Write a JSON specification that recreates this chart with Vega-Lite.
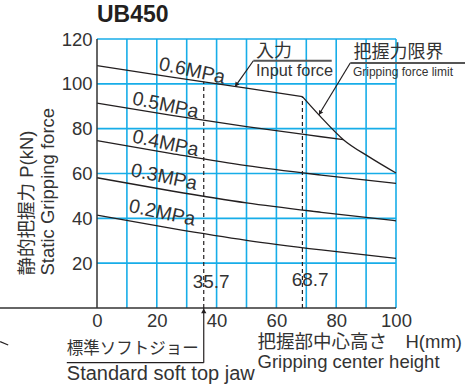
{
  "$schema": "https://vega.github.io/schema/vega-lite/v6.json",
  "autosize": {"type": "none"},
  "padding": {"left": 97, "top": 39, "right": 69, "bottom": 81},
  "width": 299,
  "height": 269,
  "background": "white",
  "title": {"text": "UB450", "anchor": "start", "frame": "group", "fontSize": 23, "fontWeight": "bold", "font": "Liberation Sans", "color": "#231f20", "offset": 3},
  "config": {
    "view": {"stroke": null},
    "axis": {"grid": false, "tickSize": 0, "domain": false}
  },
  "datasets": {
    "gridx": [{"v": 10}, {"v": 20}, {"v": 30}, {"v": 40}, {"v": 50}, {"v": 60}, {"v": 70}, {"v": 80}, {"v": 90}, {"v": 100}],
    "gridy": [{"v": 20}, {"v": 40}, {"v": 60}, {"v": 80}, {"v": 100}, {"v": 120}],
    "curves": [
      {"series": "0.6MPa", "H": 0, "P": 108.1}, {"series": "0.6MPa", "H": 25, "P": 103.0}, {"series": "0.6MPa", "H": 50, "P": 98.1}, {"series": "0.6MPa", "H": 68.7, "P": 94.3},
      {"series": "0.5MPa", "H": 0, "P": 91.4}, {"series": "0.5MPa", "H": 25, "P": 85.9}, {"series": "0.5MPa", "H": 50, "P": 80.9}, {"series": "0.5MPa", "H": 75, "P": 76.4}, {"series": "0.5MPa", "H": 82.4, "P": 75.1},
      {"series": "0.4MPa", "H": 0, "P": 74.7}, {"series": "0.4MPa", "H": 25, "P": 68.9}, {"series": "0.4MPa", "H": 50, "P": 63.5}, {"series": "0.4MPa", "H": 75, "P": 59.3}, {"series": "0.4MPa", "H": 100, "P": 55.6},
      {"series": "0.3MPa", "H": 0, "P": 58.1}, {"series": "0.3MPa", "H": 25, "P": 52.2}, {"series": "0.3MPa", "H": 50, "P": 46.9}, {"series": "0.3MPa", "H": 75, "P": 42.7}, {"series": "0.3MPa", "H": 100, "P": 38.9},
      {"series": "0.2MPa", "H": 0, "P": 41.4}, {"series": "0.2MPa", "H": 25, "P": 35.5}, {"series": "0.2MPa", "H": 50, "P": 30.2}, {"series": "0.2MPa", "H": 75, "P": 25.9}, {"series": "0.2MPa", "H": 100, "P": 22.1},
      {"series": "limit", "H": 68.7, "P": 94.3}, {"series": "limit", "H": 74.6, "P": 85.6}, {"series": "limit", "H": 82.4, "P": 75.1}, {"series": "limit", "H": 91, "P": 67.4}, {"series": "limit", "H": 100, "P": 60.2}
    ],
    "mpa": [
      {"t": "0.6MPa", "x": 20.4, "y": 106.3},
      {"t": "0.5MPa", "x": 11.5, "y": 90.9},
      {"t": "0.4MPa", "x": 11.5, "y": 73.9},
      {"t": "0.3MPa", "x": 11.0, "y": 58.9},
      {"t": "0.2MPa", "x": 10.4, "y": 42.9}
    ],
    "dashed": [
      {"x": 35.7, "y": 0, "y2": 101.0},
      {"x": 68.7, "y": 0, "y2": 94.3}
    ],
    "thin": [
      {"x": 35.7, "y": 0, "x2": 35.7, "y2": -24.4},
      {"x": -10.1, "y": -24.4, "x2": 35.7, "y2": -24.4},
      {"x": 52.3, "y": 110.3, "x2": 46.3, "y2": 99.0},
      {"x": 84.7, "y": 109.3, "x2": 74.2, "y2": 86.2},
      {"x": -32.4, "y": -15.0, "x2": -29.7, "y2": -16.5}
    ],
    "axislines": [
      {"x": -32.5, "y": 0, "x2": 100, "y2": 0},
      {"x": 0, "y": 0, "x2": 0, "y2": 120}
    ],
    "gray": [
      {"x": 52.3, "y": 110.3, "x2": 78.5, "y2": 110.3},
      {"x": 84.7, "y": 109.3, "x2": 123.5, "y2": 109.3}
    ],
    "vals": [
      {"t": "35.7", "x": 32.0, "y": 8.8},
      {"t": "68.7", "x": 65.1, "y": 9.7}
    ]
  },
  "layer": [
    {
      "data": {"name": "gridx"},
      "mark": {"type": "rule", "color": "#17ade8", "strokeWidth": 1.6},
      "encoding": {
        "x": {"field": "v", "type": "quantitative", "scale": {"domain": [0, 100], "nice": false, "zero": false},
          "axis": {
            "values": [0, 10, 20, 30, 40, 50, 60, 70, 80, 90, 100],
            "labelExpr": "datum.value % 20 == 0 ? datum.label : ''",
            "labelFont": "Liberation Sans",
            "labelFontSize": 18.5,
            "labelColor": "#333333",
            "labelPadding": 3,
            "labelFlush": false,
            "labelOverlap": false,
            "title": ["把握部中心高さ　H(mm)", "Gripping center height"],
            "titleFont": "Liberation Sans, Noto Sans CJK JP",
            "titleFontSize": 18.5,
            "titleFontWeight": "normal",
            "titleColor": "#333333",
            "titleAlign": "left",
            "titleBaseline": "top",
            "titleX": 160,
            "titleY": 24,
            "titleLineHeight": 20
          }}
      }
    },
    {
      "data": {"name": "gridy"},
      "mark": {"type": "rule", "color": "#17ade8", "strokeWidth": 1.6},
      "encoding": {
        "y": {"field": "v", "type": "quantitative", "scale": {"domain": [0, 120], "nice": false, "zero": false},
          "axis": {
            "values": [20, 40, 60, 80, 100, 120],
            "labelFont": "Liberation Sans",
            "labelFontSize": 18.5,
            "labelColor": "#333333",
            "labelPadding": 5,
            "labelFlush": false,
            "labelOverlap": false,
            "title": ["静的把握力 P(kN)", "Static Gripping force"],
            "titleFont": "Liberation Sans, Noto Sans CJK JP",
            "titleFontSize": 18.5,
            "titleFontWeight": "normal",
            "titleColor": "#333333",
            "titleAngle": -90,
            "titleAlign": "left",
            "titleBaseline": "top",
            "titleX": -80,
            "titleY": 236,
            "titleLineHeight": 21
          }}
      }
    },
    {
      "data": {"name": "curves"},
      "mark": {"type": "line", "color": "#231f20", "strokeWidth": 1.3, "interpolate": "monotone"},
      "encoding": {
        "x": {"field": "H", "type": "quantitative"},
        "y": {"field": "P", "type": "quantitative"},
        "detail": {"field": "series", "type": "nominal"}
      }
    },
    {
      "data": {"name": "axislines"},
      "mark": {"type": "rule", "color": "#333333", "strokeWidth": 1.5},
      "encoding": {
        "x": {"field": "x", "type": "quantitative"},
        "y": {"field": "y", "type": "quantitative"},
        "x2": {"field": "x2"},
        "y2": {"field": "y2"}
      }
    },
    {
      "data": {"name": "dashed"},
      "mark": {"type": "rule", "color": "#231f20", "strokeWidth": 1.2, "strokeDash": [4, 3]},
      "encoding": {
        "x": {"field": "x", "type": "quantitative"},
        "y": {"field": "y", "type": "quantitative"},
        "y2": {"field": "y2"}
      }
    },
    {
      "data": {"name": "thin"},
      "mark": {"type": "rule", "color": "#231f20", "strokeWidth": 1.2},
      "encoding": {
        "x": {"field": "x", "type": "quantitative"},
        "y": {"field": "y", "type": "quantitative"},
        "x2": {"field": "x2"},
        "y2": {"field": "y2"}
      }
    },
    {
      "data": {"name": "gray"},
      "mark": {"type": "rule", "color": "#555555", "strokeWidth": 2},
      "encoding": {
        "x": {"field": "x", "type": "quantitative"},
        "y": {"field": "y", "type": "quantitative"},
        "x2": {"field": "x2"},
        "y2": {"field": "y2"}
      }
    },
    {
      "data": {"values": [{"x": 35.7, "y": -1.3}]},
      "mark": {"type": "point", "shape": "triangle-up", "filled": true, "color": "#231f20", "size": 28, "opacity": 1},
      "encoding": {"x": {"field": "x", "type": "quantitative"}, "y": {"field": "y", "type": "quantitative"}}
    },
    {
      "data": {"values": [{"x": 46.6, "y": 99.6}]},
      "mark": {"type": "point", "shape": "triangle-up", "filled": true, "color": "#231f20", "size": 24, "angle": 215, "opacity": 1},
      "encoding": {"x": {"field": "x", "type": "quantitative"}, "y": {"field": "y", "type": "quantitative"}}
    },
    {
      "data": {"values": [{"x": 74.6, "y": 87.0}]},
      "mark": {"type": "point", "shape": "triangle-up", "filled": true, "color": "#231f20", "size": 24, "angle": 211, "opacity": 1},
      "encoding": {"x": {"field": "x", "type": "quantitative"}, "y": {"field": "y", "type": "quantitative"}}
    },
    {
      "data": {"name": "mpa"},
      "mark": {"type": "text", "font": "Liberation Sans", "fontSize": 19.5, "color": "#333333", "align": "left", "baseline": "alphabetic", "angle": 12},
      "encoding": {"x": {"field": "x", "type": "quantitative"}, "y": {"field": "y", "type": "quantitative"}, "text": {"field": "t"}}
    },
    {
      "data": {"name": "vals"},
      "mark": {"type": "text", "font": "Liberation Sans", "fontSize": 19, "color": "#333333", "align": "left", "baseline": "alphabetic"},
      "encoding": {"x": {"field": "x", "type": "quantitative"}, "y": {"field": "y", "type": "quantitative"}, "text": {"field": "t"}}
    },
    {
      "data": {"values": [{"t": "入力", "x": 53.2, "y": 112.1}, {"t": "把握力限界", "x": 85.8, "y": 111.6}]},
      "mark": {"type": "text", "font": "Noto Sans CJK JP", "fontSize": 18, "color": "#333333", "align": "left", "baseline": "alphabetic"},
      "encoding": {"x": {"field": "x", "type": "quantitative"}, "y": {"field": "y", "type": "quantitative"}, "text": {"field": "t"}}
    },
    {
      "data": {"values": [{"t": "Input force", "x": 53.2, "y": 103.4}]},
      "mark": {"type": "text", "font": "Liberation Sans", "fontSize": 16.3, "color": "#333333", "align": "left", "baseline": "alphabetic"},
      "encoding": {"x": {"field": "x", "type": "quantitative"}, "y": {"field": "y", "type": "quantitative"}, "text": {"field": "t"}}
    },
    {
      "data": {"values": [{"t": "Gripping force limit", "x": 85.6, "y": 103.4}]},
      "mark": {"type": "text", "font": "Liberation Sans", "fontSize": 12, "color": "#333333", "align": "left", "baseline": "alphabetic"},
      "encoding": {"x": {"field": "x", "type": "quantitative"}, "y": {"field": "y", "type": "quantitative"}, "text": {"field": "t"}}
    },
    {
      "data": {"values": [{"t": "標準ソフトジョー", "x": -10.1, "y": -20.3}]},
      "mark": {"type": "text", "font": "Noto Sans CJK JP", "fontSize": 16.5, "color": "#333333", "align": "left", "baseline": "alphabetic"},
      "encoding": {"x": {"field": "x", "type": "quantitative"}, "y": {"field": "y", "type": "quantitative"}, "text": {"field": "t"}}
    },
    {
      "data": {"values": [{"t": "Standard soft top jaw", "x": -10.1, "y": -32.1}]},
      "mark": {"type": "text", "font": "Liberation Sans", "fontSize": 20, "color": "#333333", "align": "left", "baseline": "alphabetic"},
      "encoding": {"x": {"field": "x", "type": "quantitative"}, "y": {"field": "y", "type": "quantitative"}, "text": {"field": "t"}}
    }
  ]
}
